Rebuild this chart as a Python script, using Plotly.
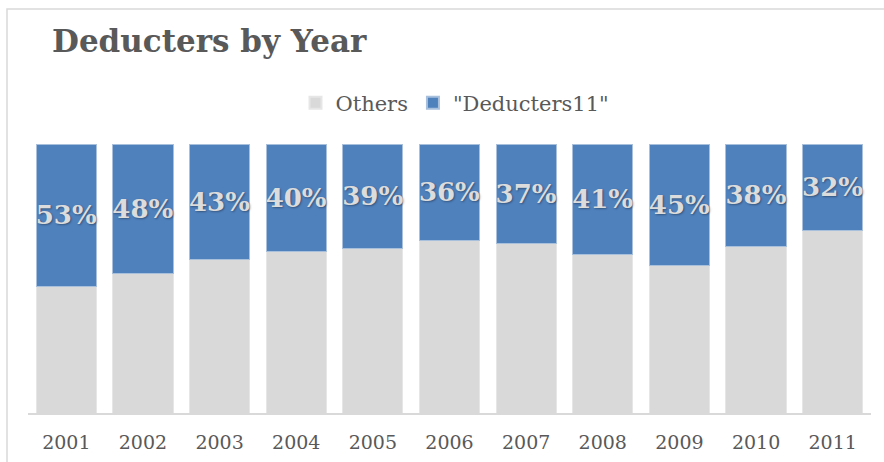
import plotly.graph_objects as go

# Share of filers by year, in percent
years = ["2001", "2002", "2003", "2004", "2005", "2006",
         "2007", "2008", "2009", "2010", "2011"]
others = [47, 52, 57, 60, 61, 64, 63, 59, 55, 62, 68]
deducters = [53, 48, 43, 40, 39, 36, 37, 41, 45, 38, 32]

GRAY = "#D9D9D9"
BLUE = "#4F81BD"
TEXT = "#595959"
FONT = "DejaVu Serif"

W, H = 884, 462
L, R, T, B = 28, 13, 144, 49
pw, ph = W - L - R, H - T - B


def px_x(x):
    return (x - L) / pw


def px_y(y):
    return (H - B - y) / ph


fig = go.Figure()
fig.add_trace(go.Bar(
    x=years, y=others, name="Others",
    marker=dict(color=GRAY, line=dict(color="#e6e6e6", width=1)),
    hoverinfo="x+y",
))
fig.add_trace(go.Bar(
    x=years, y=deducters, name='"Deducters11"',
    marker=dict(color=BLUE, line=dict(color="#a9c0dd", width=1)),
    texttemplate="%{y}%",
    textposition="inside",
    insidetextanchor="middle",
    constraintext="none",
    textangle=0,
    textfont=dict(family=FONT, size=26, color="#DCDCDC", weight="bold",
                  shadow="1px 1px 2px rgba(0,0,0,0.35)"),
    cliponaxis=False,
))

fig.update_layout(
    width=W, height=H,
    barmode="stack",
    bargap=0.215,
    margin=dict(l=L, r=R, t=T, b=B, autoexpand=False),
    paper_bgcolor="white",
    plot_bgcolor="white",
    font=dict(family=FONT, color=TEXT),
    title=dict(
        text="<b>Deducters by Year</b>",
        font=dict(family=FONT, size=31, color=TEXT),
        x=52 / W, xanchor="left", xref="container",
        y=1 - 41 / H, yanchor="middle", yref="container",
    ),
    legend=dict(
        orientation="h",
        x=px_x(455), xanchor="center",
        y=px_y(103), yanchor="middle",
        font=dict(family=FONT, size=21, color=TEXT),
        itemsizing="constant",
        traceorder="normal",
    ),
    showlegend=True,
    xaxis=dict(
        showline=True, linecolor=GRAY, linewidth=1.5,
        showgrid=False, ticks="", ticklabelstandoff=11,
        tickfont=dict(family=FONT, size=19, color=TEXT),
        fixedrange=True, automargin=False,
    ),
    yaxis=dict(
        range=[0, 100], visible=False, showgrid=False, fixedrange=True,
        automargin=False,
    ),
    shapes=[dict(
        type="rect", xref="paper", yref="paper",
        x0=px_x(7), x1=px_x(W + 10), y0=px_y(H + 10), y1=px_y(9),
        line=dict(color=GRAY, width=1.5), fillcolor="rgba(0,0,0,0)",
        layer="below",
    )],
)

fig.write_html("out.html")
